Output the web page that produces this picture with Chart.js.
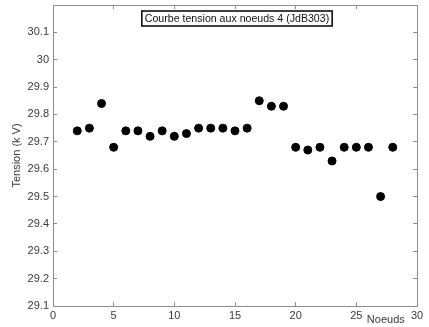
<!DOCTYPE html>
<html>
<head>
<meta charset="utf-8">
<script src="https://cdn.jsdelivr.net/npm/chart.js@4.4.1/dist/chart.umd.min.js"></script>
<style>
  html, body { margin: 0; padding: 0; background: #fff; }
  #wrap { width: 429px; height: 327px; position: relative; }
</style>
</head>
<body>
<div id="wrap"><canvas id="c" width="429" height="327"></canvas></div>
<script>
// ---- data ----
const noeuds = [2, 3, 4, 5, 6, 7, 8, 9, 10, 11, 12, 13, 14, 15, 16, 17, 18, 19, 20, 21, 22, 23, 24, 25, 26, 27, 28];
const tension = [29.74, 29.75, 29.84, 29.68, 29.74, 29.74, 29.72, 29.74, 29.72, 29.73, 29.75, 29.75, 29.75, 29.74, 29.75, 29.85, 29.83, 29.83, 29.68, 29.67, 29.68, 29.63, 29.68, 29.68, 29.68, 29.50, 29.68];
const xTicks = [0, 5, 10, 15, 20, 25, 30];
const yTicks = [29.1, 29.2, 29.3, 29.4, 29.5, 29.6, 29.7, 29.8, 29.9, 30, 30.1];
const chartTitle = 'Courbe tension aux noeuds 4 (JdB303)';
const xLabel = 'Noeuds';
const yLabel = 'Tension (k V)';

const FONT = 'Liberation Sans, Arial, Helvetica, sans-serif';
const AXIS = '#8c8c8c';
const TXT = '#3a3a3a';

const boxTitle = {
  id: 'boxTitle',
  afterDraw(chart) {
    const { ctx, chartArea } = chart;
    ctx.save();
    ctx.font = '10.6px ' + FONT;
    const w = ctx.measureText(chartTitle).width;
    const cx = (chartArea.left + chartArea.right) / 2 + 2;
    const top = chartArea.top + 6;
    const h = 15;
    const bw = w + 6;
    ctx.fillStyle = '#fff';
    ctx.fillRect(cx - bw / 2, top, bw, h);
    ctx.strokeStyle = '#000';
    ctx.lineWidth = 1.5;
    ctx.strokeRect(cx - bw / 2, top, bw, h);
    ctx.fillStyle = '#111';
    ctx.textAlign = 'center';
    ctx.textBaseline = 'middle';
    ctx.fillText(chartTitle, cx, top + h / 2 + 0.5);
    ctx.restore();
  }
};

new Chart(document.getElementById('c'), {
  type: 'scatter',
  data: {
    datasets: [{
      data: noeuds.map((n, i) => ({ x: n, y: tension[i] })),
      backgroundColor: '#000',
      borderColor: '#000',
      pointRadius: 4,
      pointHoverRadius: 4,
      showLine: false
    }]
  },
  options: {
    responsive: false,
    animation: false,
    devicePixelRatio: 1,
    layout: { padding: { top: 1, right: 12, left: 0, bottom: 0 } },
    plugins: { legend: { display: false }, tooltip: { enabled: false }, title: { display: false } },
    scales: {
      x: {
        type: 'linear', position: 'bottom', min: 0, max: 30,
        afterBuildTicks: s => { s.ticks = xTicks.map(v => ({ value: v })); },
        afterFit: s => { s.height = 21; s.paddingLeft = 0; s.paddingRight = 0; },
        grid: { drawOnChartArea: false, drawTicks: true, tickLength: -4, color: AXIS },
        border: { display: true, color: AXIS, width: 1 },
        ticks: { padding: 7, color: TXT, font: { family: FONT, size: 11 }, maxRotation: 0 },
        title: { display: true, text: xLabel + '    ', align: 'end', color: TXT, font: { family: FONT, size: 11 }, padding: { top: 0, bottom: 0 } }
      },
      x2: {
        type: 'linear', position: 'top', min: 0, max: 30,
        afterBuildTicks: s => { s.ticks = xTicks.map(v => ({ value: v })); },
        afterFit: s => { s.height = 0; s.paddingLeft = 0; s.paddingRight = 0; },
        grid: { drawOnChartArea: false, drawTicks: true, tickLength: -4, color: AXIS },
        border: { display: true, color: AXIS, width: 1 },
        ticks: { display: false }
      },
      y: {
        type: 'linear', position: 'left', min: 29.1, max: 30.2,
        afterBuildTicks: s => { s.ticks = yTicks.map(v => ({ value: v })); },
        afterFit: s => { s.width = 53; s.paddingTop = 0; s.paddingBottom = 0; },
        grid: { drawOnChartArea: false, drawTicks: true, tickLength: -4, color: AXIS },
        border: { display: true, color: AXIS, width: 1 },
        ticks: { padding: 8, color: TXT, font: { family: FONT, size: 11 }, callback: v => String(Math.round(v * 10) / 10) },
        title: { display: true, text: yLabel, color: TXT, font: { family: FONT, size: 11 }, padding: { top: 10, bottom: 0 } }
      },
      y2: {
        type: 'linear', position: 'right', min: 29.1, max: 30.2,
        afterBuildTicks: s => { s.ticks = yTicks.map(v => ({ value: v })); },
        afterFit: s => { s.width = 0; s.paddingTop = 0; s.paddingBottom = 0; },
        grid: { drawOnChartArea: false, drawTicks: true, tickLength: -4, color: AXIS },
        border: { display: true, color: AXIS, width: 1 },
        ticks: { display: false }
      }
    }
  },
  plugins: [boxTitle]
});
</script>
</body>
</html>
